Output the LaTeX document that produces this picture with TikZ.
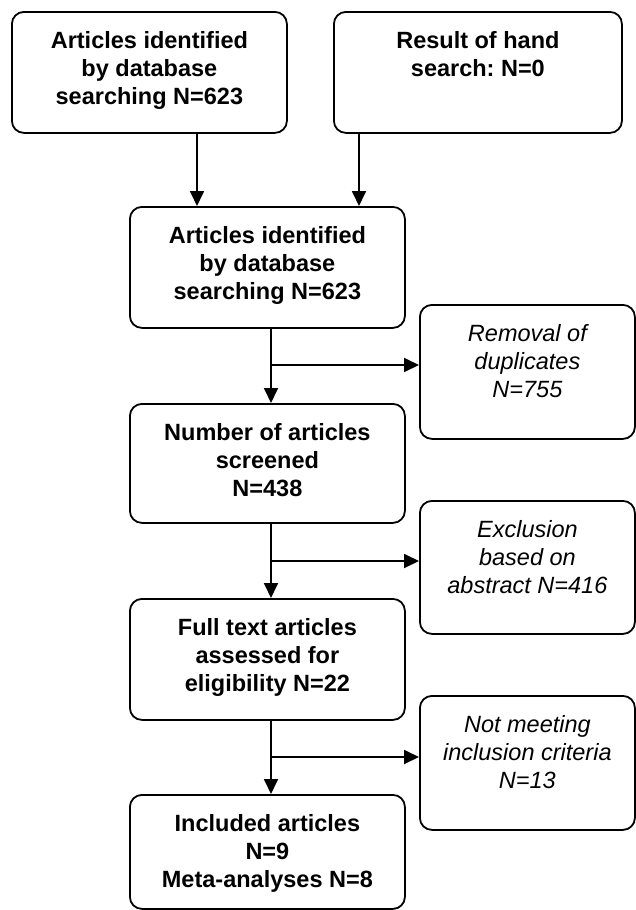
\documentclass[tikz,border=0pt]{standalone}
\usepackage{fontspec}
\setmainfont{Liberation Sans}
\usetikzlibrary{arrows.meta,calc}
\frenchspacing
\begin{document}
\begin{tikzpicture}[x=1pt,y=-1pt,
  box/.style={draw=black,line width=1.8pt,rounded corners=12pt,anchor=north west,inner sep=0pt},
  mainlbl/.style={anchor=north,align=center,inner sep=0pt,font=\fontsize{23.5}{28}\selectfont\bfseries},
  sidelbl/.style={anchor=north,align=center,inner sep=0pt,font=\fontsize{23.5}{28}\selectfont\itshape},
  arr/.style={line width=1.8pt,-{Triangle[length=15pt,width=14pt]}}]
\useasboundingbox (0,0) rectangle (635,910);
% boxes
\node[box,minimum width=275pt,minimum height=121pt] (A) at (11,11) {};
\node[box,minimum width=288pt,minimum height=121pt] (B) at (333,11) {};
\node[box,minimum width=275pt,minimum height=121pt] (C) at (129,206) {};
\node[box,minimum width=275pt,minimum height=119pt] (D) at (129,403) {};
\node[box,minimum width=275pt,minimum height=121pt] (E) at (129,598) {};
\node[box,minimum width=275pt,minimum height=114pt] (F) at (129,794) {};
\node[box,minimum width=215pt,minimum height=134pt] (R) at (419,304) {};
\node[box,minimum width=215pt,minimum height=133pt] (X) at (419,500) {};
\node[box,minimum width=215pt,minimum height=134pt] (M) at (419,695) {};
% labels
\node[mainlbl] (tA) at ($(A.north)+(0,20)$) {Articles identified\\by database\\searching N=623};
\node[mainlbl] (tB) at ($(B.north)+(0,20)$) {Result of hand\\search: N=0};
\node[mainlbl] (tC) at ($(C.north)+(0,20)$) {Articles identified\\by database\\searching N=623};
\node[mainlbl] (tD) at ($(D.north)+(0,20)$) {Number of articles\\screened\\N=438};
\node[mainlbl] (tE) at ($(E.north)+(0,20)$) {Full text articles\\assessed for\\eligibility N=22};
\node[mainlbl] (tF) at ($(F.north)+(0,20)$) {Included articles\\N=9\\Meta-analyses N=8};
\node[sidelbl] (tR) at ($(R.north)+(0,20)$) {Removal of\\duplicates\\N=755};
\node[sidelbl] (tX) at ($(X.north)+(0,20)$) {Exclusion\\based on\\abstract N=416};
\node[sidelbl] (tM) at ($(M.north)+(0,20)$) {Not meeting\\inclusion criteria\\N=13};
% connector guides
\coordinate (ax) at (197,0);
\coordinate (bx) at (359,0);
\coordinate (b1) at (271,365);
\coordinate (b2) at (271,561);
\coordinate (b3) at (271,757);
% connectors
\draw[arr] (A.south -| ax) -- (C.north -| ax);
\draw[arr] (B.south -| bx) -- (C.north -| bx);
\draw[arr] (C.south -| b1) -- (D.north -| b1);
\draw[arr] (b1) -- (R.west |- b1);
\draw[arr] (D.south -| b2) -- (E.north -| b2);
\draw[arr] (b2) -- (X.west |- b2);
\draw[arr] (E.south -| b3) -- (F.north -| b3);
\draw[arr] (b3) -- (M.west |- b3);
\end{tikzpicture}
\end{document}
